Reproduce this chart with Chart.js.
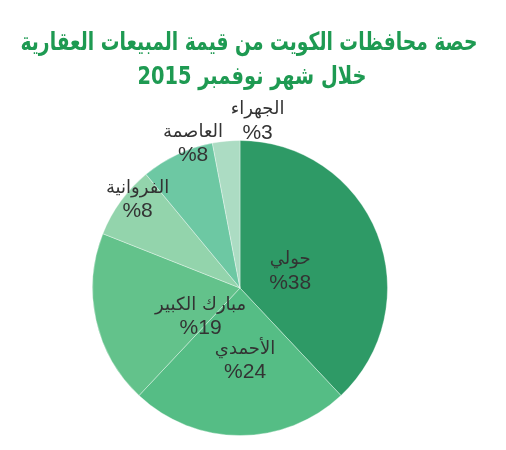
<!DOCTYPE html>
<html>
<head>
<meta charset="utf-8">
<script src="https://cdn.jsdelivr.net/npm/chart.js@4"></script>
<style>
  html, body { margin: 0; padding: 0; background: #fff; }
  #wrap { width: 506px; height: 450px; position: relative; }
</style>
</head>
<body>
<div id="wrap"><canvas id="pie" width="506" height="450"></canvas></div>
<script>
// بيانات الرسم
const titleLines = ['حصة محافظات الكويت من قيمة المبيعات العقارية', 'خلال شهر نوفمبر 2015'];
const governorates = ['حولي', 'الأحمدي', 'مبارك الكبير', 'الفروانية', 'العاصمة', 'الجهراء'];
const shares = [38, 24, 19, 8, 8, 3];
const sliceColors = ['#2e9a66', '#55bd85', '#63c28b', '#93d4ac', '#6dc8a3', '#acdcc3'];
// موضع كل تسمية: زاوية (درجة من الأعلى باتجاه عقارب الساعة) ونسبة من نصف القطر
const labelAngle = [71, 176, 234, 311, 342, 6];
const labelRadius = [0.36, 0.49, 0.33, 0.92, 1.03, 1.14];

const titlePlugin = {
    id: 'arabicTitle',
    afterDraw(chart) {
        const ctx = chart.ctx;
        ctx.save();
        ctx.fillStyle = '#1e9a52';
        ctx.font = 'bold 25px "DejaVu Sans", sans-serif';
        ctx.textAlign = 'center';
        ctx.textBaseline = 'middle';
        ctx.direction = 'rtl';
        const widths = [457, 229];
        const centers = [249, 252];
        titleLines.forEach((line, i) => ctx.fillText(line, centers[i], 43 + i * 34, widths[i]));
        ctx.restore();
    }
};

const labelPlugin = {
    id: 'sliceLabels',
    afterDatasetsDraw(chart) {
        const ctx = chart.ctx;
        const arcs = chart.getDatasetMeta(0).data;
        ctx.save();
        ctx.fillStyle = '#333333';
        ctx.textAlign = 'center';
        ctx.textBaseline = 'middle';
        arcs.forEach((arc, i) => {
            const a = (labelAngle[i] - 90) * Math.PI / 180;
            const r = arc.outerRadius * labelRadius[i];
            const x = arc.x + Math.cos(a) * r;
            const y = arc.y + Math.sin(a) * r;
            ctx.direction = 'rtl';
            ctx.font = '18px "DejaVu Sans", sans-serif';
            ctx.fillText(governorates[i], x, y - 11);
            ctx.direction = 'ltr';
            ctx.font = '21px "Liberation Sans", Arial, sans-serif';
            ctx.fillText('%' + shares[i], x, y + 12);
        });
        ctx.restore();
    }
};

new Chart(document.getElementById('pie').getContext('2d'), {
    type: 'pie',
    data: {
        labels: governorates,
        datasets: [{
            data: shares,
            backgroundColor: sliceColors,
            borderColor: 'rgba(255,255,255,0.35)',
            borderWidth: 1
        }]
    },
    options: {
        responsive: false,
        animation: false,
        layout: { padding: { top: 140, bottom: 14, left: 20, right: 46 } },
        plugins: {
            legend: { display: false },
            tooltip: { enabled: false },
            title: { display: false }
        }
    },
    plugins: [titlePlugin, labelPlugin]
});
</script>
</body>
</html>
